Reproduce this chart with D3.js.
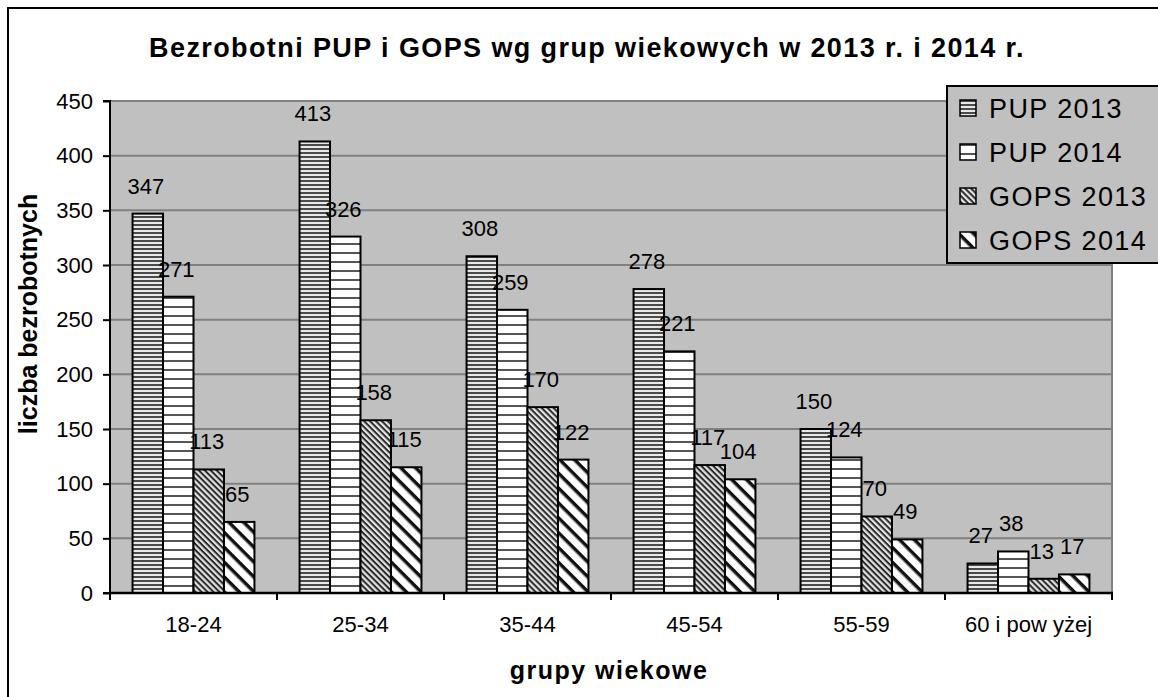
<!DOCTYPE html>
<html><head><meta charset="utf-8">
<script src="https://cdn.jsdelivr.net/npm/d3@7"></script>
<style>
html,body{margin:0;padding:0;background:#fff;}
svg text{font-family:Arial,"Liberation Sans",sans-serif;fill:#000;}
</style></head>
<body><svg id="c" width="1158" height="697"></svg>
<script>
const categories = ["18-24","25-34","35-44","45-54","55-59","60 i pow yżej"];
const seriesNames = ["PUP 2013","PUP 2014","GOPS 2013","GOPS 2014"];
const pup2013 = [347,413,308,278,150,27];
const pup2014 = [271,326,259,221,124,38];
const gops2013 = [113,158,170,117,70,13];
const gops2014 = [65,115,122,104,49,17];
const yTicks = [0,50,100,150,200,250,300,350,400,450];
const seriesValues = [pup2013,pup2014,gops2013,gops2014];

const svg = d3.select("#c");
const defs = svg.append("defs");

// patterns
function hPattern(id, period, lineH, lineColor, bg){
  const p = defs.append("pattern").attr("id",id).attr("patternUnits","userSpaceOnUse")
    .attr("width",8).attr("height",period);
  p.append("rect").attr("width",8).attr("height",period).attr("fill",bg);
  p.append("rect").attr("y",0).attr("width",8).attr("height",lineH).attr("fill",lineColor);
}
function dPattern(id, period, lineH, lineColor, bg, edge){
  const p = defs.append("pattern").attr("id",id).attr("patternUnits","userSpaceOnUse")
    .attr("width",period).attr("height",period).attr("patternTransform","rotate(45)");
  p.append("rect").attr("width",period).attr("height",period).attr("fill",bg);
  if(edge){
    p.append("rect").attr("y",-1).attr("width",period).attr("height",lineH+2).attr("fill",edge);
  }
  p.append("rect").attr("y",0).attr("width",period).attr("height",lineH).attr("fill",lineColor);
}
hPattern("p0",4,2,"#4a4a4a","#e8e8e8");
hPattern("p1",9,2,"#555","#ffffff");
dPattern("p2",4.2,2,"#2a2a2a","#e4e4e4");
dPattern("p3",10.5,3,"#111","#ffffff","#888");
const fills = ["url(#p0)","url(#p1)","url(#p2)","url(#p3)"];

// frame
svg.append("rect").attr("x",8).attr("y",8).attr("width",1170).attr("height",710)
  .attr("fill","#fff").attr("stroke","#000").attr("stroke-width",2);

const L=110, R=1112, T=101, B=593;
const x0 = d3.scaleBand().domain(categories).range([L,R]).paddingInner(0).paddingOuter(0);
const x1 = d3.scaleBand().domain(seriesNames).range([0,x0.bandwidth()]).paddingInner(0).paddingOuter(0.74);
const y = d3.scaleLinear().domain([0,450]).range([B,T]);

// plot bg
svg.append("rect").attr("x",L).attr("y",T).attr("width",R-L).attr("height",B-T)
  .attr("fill","#c0c0c0").attr("stroke","#808080").attr("stroke-width",2);

// gridlines
svg.append("g").selectAll("line").data(yTicks.filter(d=>d>0)).join("line")
  .attr("x1",L).attr("x2",R).attr("y1",d=>y(d)).attr("y2",d=>y(d))
  .attr("stroke","#808080").attr("stroke-width",2);

// bars
const groups = svg.append("g").selectAll("g").data(categories).join("g")
  .attr("transform",d=>`translate(${x0(d)},0)`);
groups.each(function(cat,ci){
  const g = d3.select(this);
  seriesNames.forEach((s,si)=>{
    const v = seriesValues[si][ci];
    g.append("rect").attr("x",x1(s)).attr("y",y(v)).attr("width",x1.bandwidth()).attr("height",B-y(v))
      .attr("fill",fills[si]).attr("stroke","#000").attr("stroke-width",2);
  });
});
// labels
groups.each(function(cat,ci){
  const g = d3.select(this);
  seriesNames.forEach((s,si)=>{
    const v = seriesValues[si][ci];
    g.append("text").attr("x",x1(s)+x1.bandwidth()/2-2).attr("y",y(v)-20)
      .attr("text-anchor","middle").attr("font-size",22).text(v);
  });
});

// y axis
const yAxis = d3.axisLeft(y).tickValues(yTicks).tickSize(7).tickPadding(10);
const ya = svg.append("g").attr("transform",`translate(${L},0)`).call(yAxis);
ya.select(".domain").attr("stroke","#000").attr("stroke-width",2).attr("d",`M-7,${T}H0V${B}H-7`);
ya.selectAll(".tick line").attr("stroke","#000").attr("stroke-width",2);
ya.selectAll(".tick text").attr("font-size",22).attr("font-family",'Arial,"Liberation Sans",sans-serif').attr("fill","#000");

// x axis
const xa = svg.append("g");
xa.append("line").attr("x1",L-1).attr("x2",R+1).attr("y1",B).attr("y2",B).attr("stroke","#000").attr("stroke-width",2.5);
const bounds = categories.map(c=>x0(c)).concat([R]);
xa.selectAll("line.t").data(bounds).join("line").attr("class","t")
  .attr("x1",d=>d).attr("x2",d=>d).attr("y1",B).attr("y2",B+7).attr("stroke","#000").attr("stroke-width",2);
xa.selectAll("text").data(categories).join("text")
  .attr("x",d=>x0(d)+x0.bandwidth()/2).attr("y",632).attr("text-anchor","middle")
  .attr("font-size",22).text(d=>d);

// titles
svg.append("text").attr("x",587).attr("y",57).attr("text-anchor","middle")
  .attr("font-size",27).attr("font-weight","bold").attr("letter-spacing",1.4)
  .text("Bezrobotni PUP i GOPS wg grup wiekowych w 2013 r. i 2014 r.");
svg.append("text").attr("x",609).attr("y",679).attr("text-anchor","middle")
  .attr("font-size",25).attr("font-weight","bold").attr("letter-spacing",1.5)
  .text("grupy wiekowe");
svg.append("text").attr("transform","translate(37,314) rotate(-90)").attr("text-anchor","middle")
  .attr("font-size",25).attr("font-weight","bold")
  .text("liczba bezrobotnych");

// legend
const lg = svg.append("g");
lg.append("rect").attr("x",947).attr("y",86).attr("width",214).attr("height",177)
  .attr("fill","#c0c0c0").attr("stroke","#000").attr("stroke-width",2);
seriesNames.forEach((s,i)=>{
  const cy = 108 + i*44;
  lg.append("rect").attr("x",960).attr("y",cy-8).attr("width",16).attr("height",16)
    .attr("fill",fills[i]).attr("stroke","#000").attr("stroke-width",1.5);
  lg.append("text").attr("x",989).attr("y",cy+10).attr("font-size",27).attr("letter-spacing",1.4).text(s);
});
</script></body></html>
